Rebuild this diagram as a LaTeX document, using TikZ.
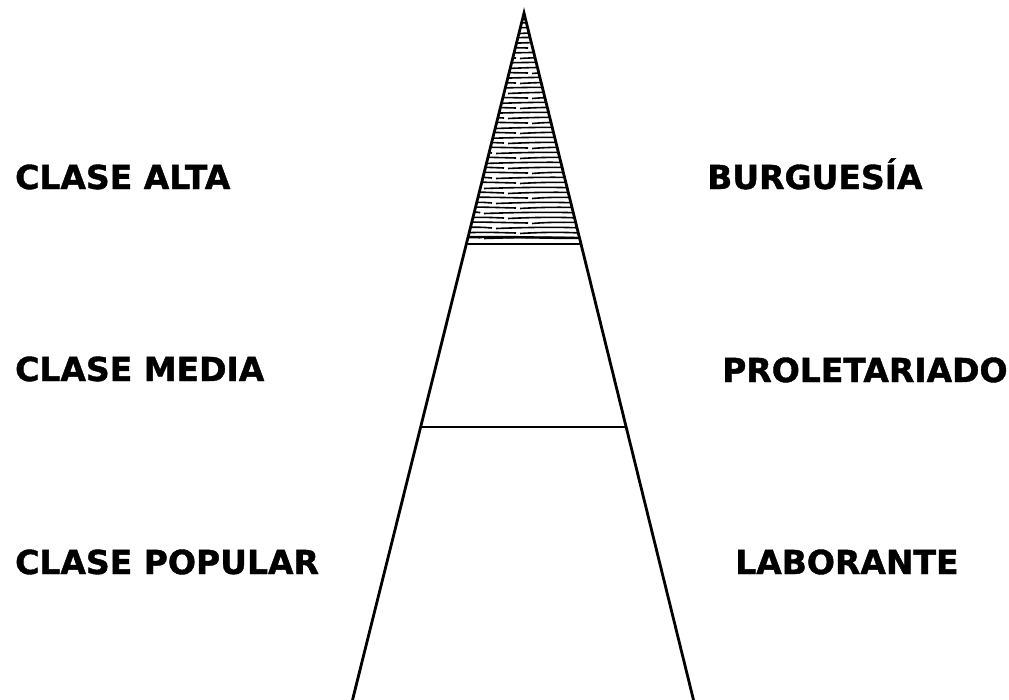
\documentclass[tikz,border=0pt]{standalone}
\usepackage{fontspec}
\setmainfont{DejaVu Sans}[BoldFeatures={FakeBold=1.2}]
\usetikzlibrary{calc}
\tikzset{
  lbl/.style={anchor=base west, inner sep=0pt, font=\bfseries\fontsize{33}{33}\selectfont},
  side/.style={line width=2.8pt, line cap=round},
  band/.style={line width=2.2pt},
  hatch/.style={line width=1.6pt}
}
\begin{document}
\begin{tikzpicture}[x=1pt,y=-1pt]
\useasboundingbox (0,0) rectangle (1009,699);
\coordinate (A) at (524,13);
\coordinate (BL) at (352,702);
\coordinate (BR) at (694,702);
\coordinate (P1L) at ($(A)!0.3355!(BL)$);
\coordinate (P1R) at ($(A)!0.3355!(BR)$);
\coordinate (P2L) at ($(A)!0.601!(BL)$);
\coordinate (P2R) at ($(A)!0.601!(BR)$);
% hatching in top band
\begin{scope}
\clip (A) -- (P1L) -- (P1R) -- cycle;
\foreach \y [count=\i] in {18,23,...,240} {
  \pgfmathsetmacro{\d}{mod(\i,3)-1}
  \pgfmathsetmacro{\g}{480+12*mod(\i*7,5)}
  \draw[hatch] (440,\y+\d) .. controls (480,\y-1) .. (\g,\y);
  \draw[hatch] (\g+4,\y+0.5) .. controls (560,\y-2) and (590,\y) .. (615,\y+2+\d);
}
\draw[line width=2.4pt] (440,238) .. controls (520,235) and (560,240) .. (615,237);
\end{scope}
\draw[side] (BL) -- (A) -- (BR);
\draw[band] (P1L) -- (P1R);
\draw[band] (P2L) -- (P2R);
\node[lbl] (ca) at (15,189) {CLASE ALTA};
\node[lbl] (cm) at (15,381) {CLASE MEDIA};
\node[lbl] (cp) at (15,574) {CLASE POPULAR};
\node[lbl] (bu) at (707,189) {BURGUESÍA};
\node[lbl] (pr) at (722,382) {PROLETARIADO};
\node[lbl] (la) at (735,574) {LABORANTE};
\end{tikzpicture}
\end{document}
